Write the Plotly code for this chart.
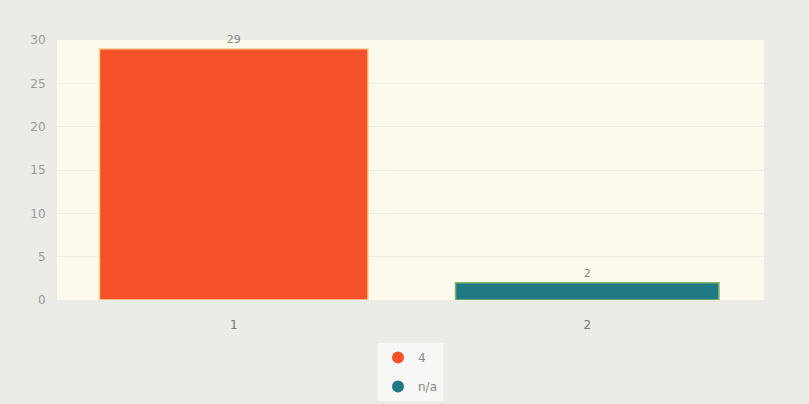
import plotly.graph_objects as go

categories = ["1", "2"]
series_names = ["4", "n/a"]
values_4 = [29, None]
values_na = [None, 2]
labels_4 = ["29", ""]
labels_na = ["", "2"]
colors = ["#f5522a", "#1f7a86"]
y_ticks = [0, 5, 10, 15, 20, 25, 30]

fig = go.Figure()
fig.add_trace(go.Bar(x=categories, y=values_4, name=series_names[0], marker_color=colors[0],
                     marker_line=dict(color="#f7d9a0", width=1.5),
                     text=labels_4, textposition="outside", width=0.76,
                     textfont=dict(size=11, color="#888"), showlegend=False, cliponaxis=False))
fig.add_trace(go.Bar(x=categories, y=values_na, name=series_names[1], marker_color=colors[1],
                     marker_line=dict(color="#7fb36a", width=1.5),
                     text=labels_na, textposition="outside", width=0.745,
                     textfont=dict(size=11, color="#888"), showlegend=False, cliponaxis=False))
for name, c in zip(series_names, colors):
    fig.add_trace(go.Scatter(x=[None], y=[None], mode="markers", name=name, legendgroup=name,
                             marker=dict(color=c, size=12, symbol="circle")))

fig.update_layout(
    width=809, height=404,
    barmode="overlay",
    paper_bgcolor="#ebebe8",
    plot_bgcolor="#fcfaec",
    margin=dict(l=57, r=45, t=40, b=104, autoexpand=False),
    font=dict(family="DejaVu Sans", size=11, color="#888"),
    legend=dict(orientation="v", x=0.5, xanchor="center", y=-0.165, yanchor="top",
                traceorder="grouped", tracegroupgap=10,
                bgcolor="#f7f7f5", font=dict(size=12, color="#888")),
    xaxis=dict(type="category", range=[-0.5, 1.5], showgrid=False, ticks="outside",
               ticklen=14, tickcolor="rgba(0,0,0,0)",
               tickfont=dict(size=12, color="#777")),
    yaxis=dict(range=[0, 30], tickvals=y_ticks, showgrid=True, gridcolor="#f0eee2",
               ticks="outside", ticklen=8, tickcolor="rgba(0,0,0,0)",
               zeroline=False, tickfont=dict(size=12, color="#999")),
)
fig.write_html("out.html", config={"displayModeBar": False},
               post_script="document.body.style.margin='0';")
